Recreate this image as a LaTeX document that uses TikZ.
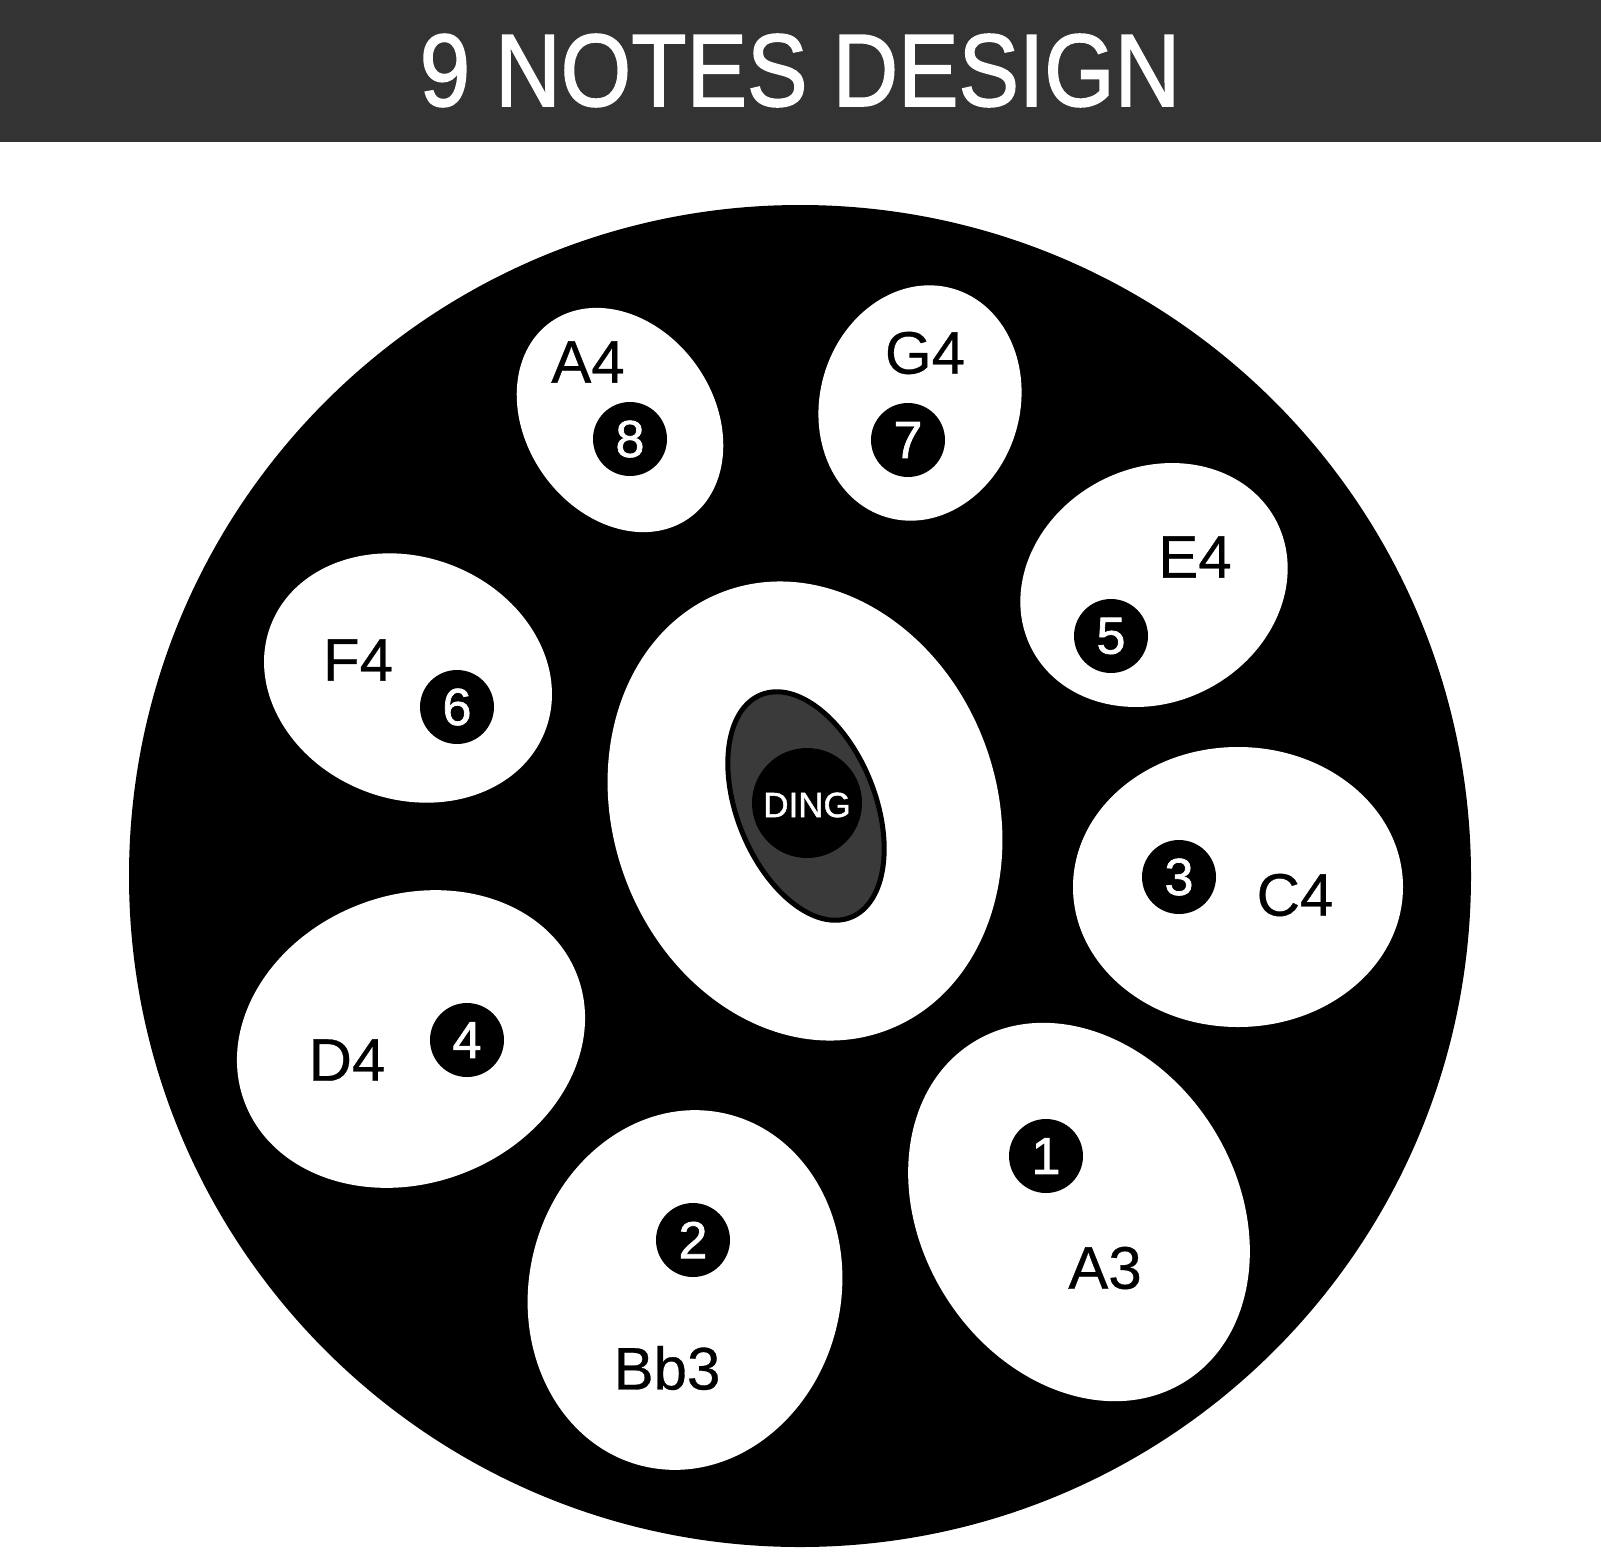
\documentclass[tikz,border=0pt]{standalone}
\usepackage{fontspec}
\setmainfont{Liberation Sans}
\newfontface\hdrfont{Liberation Sans}[FakeBold=1.6]
\newfontface\digfont{Liberation Sans}[FakeBold=1.4]
\newfontface\lblfont{Liberation Sans}[FakeBold=0.5]
\definecolor{hdrgray}{HTML}{333333}
\definecolor{dinggray}{HTML}{3A3A3A}
\begin{document}
\begin{tikzpicture}[x=1pt,y=-1pt,
  pad/.style={fill=white},
  lbl/.style={inner sep=0pt, text=black, font=\lblfont\fontsize{60}{60}\selectfont},
  num/.style={circle, fill=black, minimum size=74pt, inner sep=0pt, text=white, font=\digfont\fontsize{52}{52}\selectfont},
  hdrtext/.style={inner sep=0pt, text=white, font=\hdrfont\fontsize{103}{103}\selectfont}]
\useasboundingbox (0,0) rectangle (1601,1553);
\fill[white] (0,0) rectangle (1601,1553);
% header
\fill[hdrgray] (0,0) rectangle (1601,142);
\node[hdrtext] (title) at (800,70.5) {\scalebox{0.88}[1]{9 NOTES DESIGN}};
% drum body
\fill[black] (800,876) circle [radius=671];
% tone fields
\fill[pad, rotate around={35:(620,420)}] (620,420) ellipse [x radius=94, y radius=120];
\fill[pad, rotate around={-16:(920,403)}] (920,403) ellipse [x radius=100, y radius=119];
\fill[pad, rotate around={28:(1154,585)}] (1154,585) ellipse [x radius=138, y radius=117];
\fill[pad, rotate around={-21:(408,678)}] (408,678) ellipse [x radius=147, y radius=121];
\fill[pad] (1238,887) ellipse [x radius=165, y radius=140];
\fill[pad, rotate around={21:(411,1039)}] (411,1039) ellipse [x radius=178, y radius=144];
\fill[pad, rotate around={-13:(685,1290)}] (685,1290) ellipse [x radius=156, y radius=181];
\fill[pad, rotate around={32:(1079,1212)}] (1079,1212) ellipse [x radius=158, y radius=200];
% centre field and ding
\fill[pad, rotate around={20:(805,811)}] (805,811) ellipse [x radius=192, y radius=234];
\filldraw[fill=dinggray, draw=black, line width=5pt, rotate around={22:(806,806)}] (806,806) ellipse [x radius=69, y radius=120];
\node[circle, fill=black, minimum size=110pt, inner sep=0pt] (dingc) at (807,803) {};
\node[inner sep=0pt, text=white, font=\digfont\fontsize{35}{35}\selectfont] (ding) at (807,805) {DING};
% labels
\node[lbl] (lA4) at (588,362) {A4};
\node[num] (n8) at (630,439) {8};
\node[lbl] (lG4) at (925,353) {G4};
\node[num] (n7) at (908,440) {7};
\node[lbl] (lE4) at (1195,557) {E4};
\node[num] (n5) at (1111,636) {5};
\node[lbl] (lF4) at (358,660) {F4};
\node[num] (n6) at (457,707) {6};
\node[lbl] (lC4) at (1295,895) {C4};
\node[num] (n3) at (1179,877) {3};
\node[lbl] (lD4) at (347,1060) {D4};
\node[num] (n4) at (467,1040) {4};
\node[lbl] (lA3) at (1105,1268) {A3};
\node[num] (n1) at (1046,1156) {1};
\node[lbl] (lBb3) at (667,1368) {Bb3};
\node[num] (n2) at (693,1240) {2};
\end{tikzpicture}
\end{document}
